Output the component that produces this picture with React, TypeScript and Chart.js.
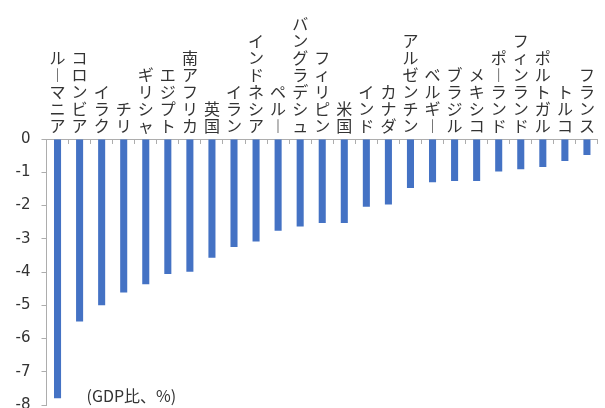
import React, { useEffect, useRef } from 'react';
import { Chart, registerables } from 'chart.js';

Chart.register(...registerables);

// 財政収支（GDP比、%）— 国別
const categories: string[] = [
  'ルーマニア', 'コロンビア', 'イラク', 'チリ', 'ギリシャ', 'エジプト', '南アフリカ',
  '英国', 'イラン', 'インドネシア', 'ペルー', 'バングラデシュ', 'フィリピン', '米国',
  'インド', 'カナダ', 'アルゼンチン', 'ベルギー', 'ブラジル', 'メキシコ', 'ポーランド',
  'フィンランド', 'ポルトガル', 'トルコ', 'フランス',
];

const balance: number[] = [
  -7.8, -5.49, -5.0, -4.62, -4.37, -4.06, -3.99,
  -3.57, -3.25, -3.08, -2.76, -2.63, -2.53, -2.53,
  -2.04, -1.97, -1.47, -1.3, -1.26, -1.26, -0.98,
  -0.91, -0.84, -0.66, -0.48,
];

const yMin = -8;
const yMax = 0;
const yStep = 1;
const unitNote = '(GDP比、%)';

const BAR_BLUE = '#4472C4';
const AXIS_GRAY = '#ADADAD';
const TEXT = '#333333';

// Category names are set one character per line; the long-vowel mark
// takes its vertical presentation form.
const toVertical = (name: string): string[] =>
  Array.from(name).map((c) => (c === 'ー' ? '︱' : c));

const unitNotePlugin = {
  id: 'unitNote',
  afterDraw(chart: Chart) {
    const { ctx, chartArea } = chart;
    ctx.save();
    ctx.font = '16px "Noto Sans CJK JP", sans-serif';
    ctx.fillStyle = TEXT;
    ctx.textAlign = 'left';
    ctx.textBaseline = 'middle';
    ctx.fillText(unitNote, chartArea.left + 40, chartArea.bottom - 9);
    ctx.restore();
  },
};

export default function App() {
  const canvasRef = useRef<HTMLCanvasElement | null>(null);

  useEffect(() => {
    if (!canvasRef.current) return;
    const chart = new Chart(canvasRef.current, {
      type: 'bar',
      data: {
        labels: categories.map(toVertical),
        datasets: [
          {
            data: balance,
            backgroundColor: BAR_BLUE,
            borderWidth: 0,
            barPercentage: 0.32,
            categoryPercentage: 1,
          },
        ],
      },
      options: {
        responsive: false,
        animation: false,
        layout: { padding: { top: 0, right: 3, bottom: 0, left: 0 } },
        plugins: {
          legend: { display: false },
          tooltip: { enabled: false },
        },
        scales: {
          x: {
            position: 'top',
            grid: { drawOnChartArea: false, tickLength: -5, color: AXIS_GRAY },
            border: { color: AXIS_GRAY },
            ticks: {
              autoSkip: false,
              maxRotation: 0,
              minRotation: 0,
              padding: 10,
              color: TEXT,
              font: { family: '"Noto Sans CJK JP", sans-serif', size: 16, lineHeight: 17 / 16 },
            },
            afterFit: (scale: any) => {
              scale.height = 139;
            },
          },
          y: {
            min: yMin,
            max: yMax,
            ticks: {
              stepSize: yStep,
              padding: 11,
              color: TEXT,
              font: { family: '"DejaVu Sans", sans-serif', size: 15 },
            },
            grid: { drawOnChartArea: false, tickLength: 5, color: AXIS_GRAY },
            border: { color: AXIS_GRAY },
            afterFit: (scale: any) => {
              scale.width = 46.5;
            },
          },
        },
      },
      plugins: [unitNotePlugin],
    });
    return () => chart.destroy();
  }, []);

  return (
    <div
      style={{
        position: 'absolute',
        top: 0,
        left: 0,
        width: 605,
        height: 408,
        overflow: 'hidden',
        background: '#ffffff',
      }}
    >
      <canvas ref={canvasRef} width={605} height={425} style={{ display: 'block' }} />
    </div>
  );
}
